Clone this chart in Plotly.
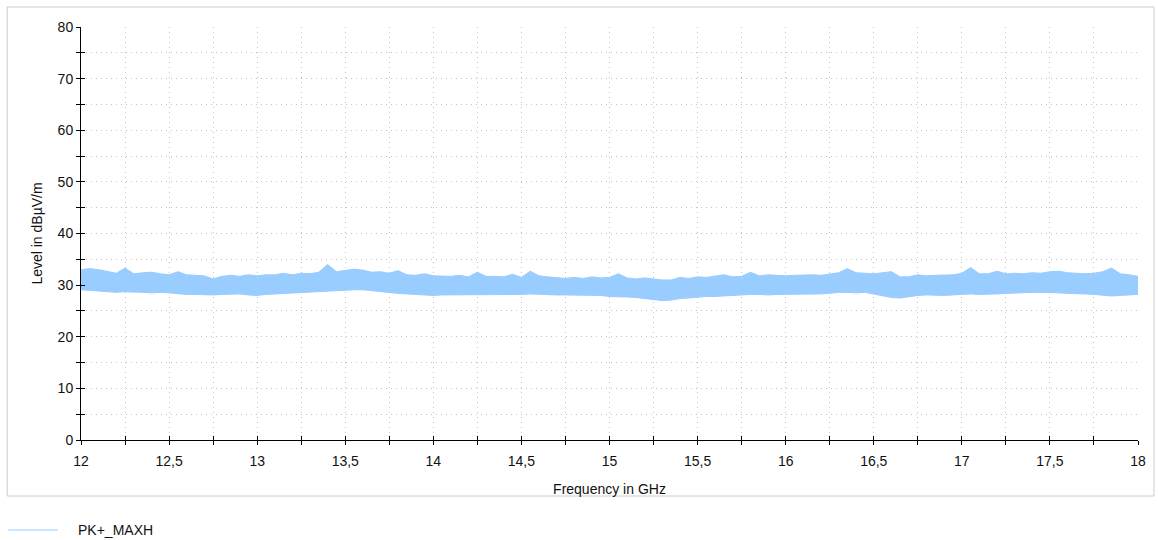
import plotly.graph_objects as go

# Frequency grid of the max-hold trace (GHz), 50 MHz buckets
freq_ghz = [round(12 + 0.05 * i, 2) for i in range(121)]

# Peak envelope of the PK+_MAXH trace per bucket (dBµV/m)
level_upper = [
    33.0, 33.2, 33.0, 32.6, 32.3, 33.3, 32.2, 32.4, 32.5, 32.2,
    32.0, 32.6, 32.0, 31.9, 31.8, 31.2, 31.7, 31.9, 31.7, 32.0,
    31.8, 32.0, 32.0, 32.3, 32.0, 32.3, 32.2, 32.5, 34.0, 32.6,
    32.8, 33.1, 32.9, 32.5, 32.6, 32.3, 32.8, 32.0, 31.9, 32.2,
    31.8, 31.8, 31.7, 31.9, 31.6, 32.5, 31.7, 31.7, 31.6, 32.1,
    31.5, 32.7, 31.8, 31.6, 31.4, 31.3, 31.5, 31.3, 31.6, 31.4,
    31.5, 32.2, 31.4, 31.2, 31.4, 31.2, 31.0, 31.0, 31.5, 31.3,
    31.6, 31.5, 31.7, 32.0, 31.6, 31.7, 32.5, 31.8, 32.0, 31.9,
    31.8, 31.9, 32.0, 32.0, 31.9, 32.1, 32.4, 33.2, 32.4, 32.3,
    32.2, 32.4, 32.6, 31.6, 31.6, 32.0, 31.8, 31.9, 32.0, 32.0,
    32.3, 33.4, 32.2, 32.2, 32.7, 32.2, 32.3, 32.2, 32.4, 32.3,
    32.6, 32.7, 32.4, 32.3, 32.2, 32.3, 32.6, 33.3, 32.2, 32.0,
    31.7,
]

# Trough envelope of the same trace per bucket (dBµV/m)
level_lower = [
    29.1, 29.0, 28.9, 28.7, 28.6, 28.7, 28.7, 28.6, 28.5, 28.6,
    28.5, 28.3, 28.2, 28.2, 28.1, 28.1, 28.2, 28.2, 28.3, 28.1,
    28.0, 28.2, 28.3, 28.4, 28.4, 28.5, 28.6, 28.7, 28.8, 29.0,
    29.0, 29.1, 29.1, 28.9, 28.7, 28.5, 28.4, 28.3, 28.2, 28.1,
    28.0, 28.1, 28.1, 28.2, 28.2, 28.1, 28.2, 28.1, 28.1, 28.2,
    28.2, 28.3, 28.2, 28.2, 28.1, 28.1, 28.1, 28.0, 28.0, 28.0,
    27.8, 27.8, 27.7, 27.6, 27.4, 27.2, 27.0, 27.1, 27.4, 27.5,
    27.7, 27.8, 27.8, 27.9, 28.0, 28.2, 28.2, 28.2, 28.1, 28.2,
    28.2, 28.3, 28.2, 28.3, 28.3, 28.4, 28.6, 28.6, 28.5, 28.6,
    28.3, 28.0, 27.6, 27.5, 27.8, 28.0, 28.1, 28.0, 28.0, 28.1,
    28.2, 28.3, 28.2, 28.2, 28.3, 28.4, 28.5, 28.6, 28.6, 28.6,
    28.6, 28.5, 28.4, 28.4, 28.3, 28.2, 28.0, 27.9, 28.0, 28.1,
    28.2,
]

x_ticks = [12, 12.5, 13, 13.5, 14, 14.5, 15, 15.5, 16, 16.5, 17, 17.5, 18]
y_ticks = [0, 10, 20, 30, 40, 50, 60, 70, 80]

TRACE_COLOR = "#99CCFF"
GRID_COLOR = "#c4c4c4"
FONT = "Liberation Sans, Arial, sans-serif"
TEXT_COLOR = "#111111"
FONT_SIZE = 14

fig = go.Figure()

fig.add_trace(go.Scatter(
    x=freq_ghz, y=level_lower, mode="lines",
    line=dict(color=TRACE_COLOR, width=1),
    showlegend=False, hoverinfo="skip",
))
fig.add_trace(go.Scatter(
    x=freq_ghz, y=level_upper, mode="lines",
    line=dict(color=TRACE_COLOR, width=1),
    fill="tonexty", fillcolor=TRACE_COLOR,
    name="PK+_MAXH", showlegend=False,
))
# carrier for the inward half of the crossing tick marks
fig.add_trace(go.Scatter(
    x=[None], y=[None], xaxis="x2", yaxis="y2",
    showlegend=False, hoverinfo="skip",
))

common_axis = dict(
    showline=True, linecolor="black", linewidth=1,
    ticks="outside", ticklen=4, tickwidth=1, tickcolor="black",
    tickfont=dict(family=FONT, size=FONT_SIZE, color=TEXT_COLOR),
    showgrid=True, gridcolor=GRID_COLOR, griddash="1px,4px", gridwidth=1,
    zeroline=False, mirror=False,
)

fig.update_layout(
    width=1158, height=540, autosize=False,
    margin=dict(l=81, r=17, t=27, b=100),
    paper_bgcolor="white", plot_bgcolor="white",
    separators=", ",
    font=dict(family=FONT, size=FONT_SIZE, color=TEXT_COLOR),
    xaxis=dict(
        range=[12, 18], tickvals=x_ticks,
        minor=dict(dtick=0.25, tick0=12, ticks="outside", ticklen=4,
                   tickcolor="black", showgrid=True, gridcolor=GRID_COLOR,
                   griddash="1px,4px"),
        title=dict(text="Frequency in GHz", standoff=16,
                   font=dict(family=FONT, size=FONT_SIZE, color=TEXT_COLOR)),
        ticklabelstandoff=4,
        **common_axis,
    ),
    yaxis=dict(
        range=[0, 80], tickvals=y_ticks,
        minor=dict(dtick=5, tick0=0, ticks="outside", ticklen=4,
                   tickcolor="black", showgrid=True, gridcolor=GRID_COLOR,
                   griddash="1px,4px"),
        title=dict(text="Level in dBµV/m", standoff=11,
                   font=dict(family=FONT, size=FONT_SIZE, color=TEXT_COLOR)),
        **common_axis,
    ),
    xaxis2=dict(
        overlaying="x", anchor="y2", side="bottom", range=[12, 18],
        tickvals=x_ticks, ticks="inside", ticklen=4, tickcolor="black",
        minor=dict(dtick=0.25, tick0=12, ticks="inside", ticklen=4, tickcolor="black"),
        showticklabels=False, showgrid=False, showline=False, zeroline=False,
    ),
    yaxis2=dict(
        overlaying="y", anchor="x2", side="left", range=[0, 80],
        tickvals=y_ticks, ticks="inside", ticklen=4, tickcolor="black",
        minor=dict(dtick=5, tick0=0, ticks="inside", ticklen=4, tickcolor="black"),
        showticklabels=False, showgrid=False, showline=False, zeroline=False,
    ),
    shapes=[
        # frame around the diagram
        dict(type="rect", xref="paper", yref="paper",
             x0=-0.0698, x1=1.0151, y0=-0.1356, y1=1.0484,
             line=dict(color="#cccccc", width=1), fillcolor="rgba(0,0,0,0)",
             layer="below"),
        # legend sample line
        dict(type="line", xref="paper", yref="paper",
             x0=-0.0689, x1=-0.0217, y0=-0.2179, y1=-0.2179,
             line=dict(color=TRACE_COLOR, width=1)),
    ],
    annotations=[
        dict(text="PK+_MAXH", xref="paper", yref="paper",
             x=-0.0045, y=-0.2179, xanchor="left", yanchor="middle",
             showarrow=False, font=dict(family=FONT, size=FONT_SIZE, color=TEXT_COLOR)),
    ],
)

fig.write_html("out.html")
